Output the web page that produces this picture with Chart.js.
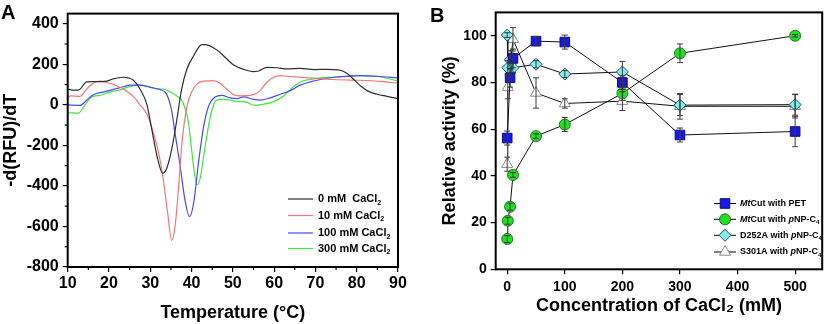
<!DOCTYPE html>
<html>
<head>
<meta charset="utf-8">
<script src="https://cdn.jsdelivr.net/npm/chart.js@4.4.1/dist/chart.umd.min.js"></script>
<style>
  body { margin: 0; background: #fff; width: 830px; height: 324px; position: relative; overflow: hidden; }
  canvas { position: absolute; top: 0; }
  #chartA { left: 0; }
  #chartB { left: 415px; }
</style>
</head>
<body>
<canvas id="chartA" width="415" height="324"></canvas>
<canvas id="chartB" width="415" height="324"></canvas>
<script>
// ---- Panel A: -d(RFU)/dT melt curves ----
const tempA0 = [10,11,12.6,14.6,16.2,19.5,21,23.5,24.7,26,27.5,29.2,30.4,31.6,33,34,35.2,36.4,37.6,38.8,40.5,42.5,43.3,45.3,46.9,48.5,50.2,52.6,55,56.2,58.2,60.7,63.1,66.3,69.6,72.8,75.6,77.6,79.3,80.9,82.5,84.9,87.3,90];
const dA0 = [78,73,73,113,114,117,128,136,133,120,78,0,-125,-250,-338,-313,-219,-78,78,172,242,297,297,282,258,227,196,175,164,167,185,183,177,180,174,175,172,156,125,94,70,52,42,31];

const tempA10 = [10,10.6,13,14.6,16.2,17.8,19.5,21.5,23.5,26,27.5,29.2,30.8,32,33.2,34.2,35.2,36,36.8,37.6,38.8,40,41.3,42.9,45.3,46.9,48.5,50.2,51.8,55,56.6,58.2,59.9,61.5,63.1,66.3,70.4,74.4,78.4,82.5,86.5,90];
const dA10 = [31,44,42,78,106,117,110,97,78,39,0,-47,-141,-235,-375,-532,-669,-600,-422,-203,-16,63,102,117,119,106,78,50,44,50,70,110,136,144,141,136,130,125,122,120,114,106];

const tempA100 = [10,13,14.6,16.2,18.6,21,23.5,25.1,27.5,30,32.4,33.6,34.4,35.2,36,37.2,38.4,39.5,40.5,41.7,42.9,44.1,45.7,47.3,49.4,51,52.6,55,56.6,59,61.5,63.9,66.3,68.7,71.2,74.4,77.6,80.9,84.9,90];
const dA100 = [0,-3,23,50,63,75,89,97,97,86,75,63,31,-31,-141,-297,-469,-552,-485,-282,-110,-8,39,47,34,31,39,27,23,34,52,70,97,113,125,136,141,144,141,133];

const tempA300 = [10,12.6,14.2,15.8,17.8,20.3,22.7,25.1,27.5,30,31.6,33.2,34.8,36.4,38,39.3,40,41.3,42.1,43.3,44.5,45.7,46.9,49.4,51,52.6,55.4,57.4,59.9,62.3,63.9,66.3,68.7,71.2,74.4,77.6,80.9,84.9,90];
const dA300 = [-39,-41,0,39,47,63,74,91,97,89,78,78,63,44,8,-94,-219,-394,-360,-203,-63,16,28,23,16,16,-3,3,16,44,75,113,125,133,136,141,144,141,117];

const labelsA = ["0 mM  CaCl₂", "10 mM CaCl₂", "100 mM CaCl₂", "300 mM CaCl₂"];
const xTicksA = [10, 20, 30, 40, 50, 60, 70, 80, 90];
const yTicksA = [-800, -600, -400, -200, 0, 200, 400];

// ---- Panel B: relative activity vs CaCl2 ----
const concPET = [0, 5, 10, 50, 100, 200, 300, 500];
const actPET  = [56.2, 82, 90.3, 97.7, 97.3, 80, 57.5, 59];
const errPET  = [3, 4, 4, 2, 3, 3, 3, 6.5];

const concPNP = [0, 1, 5, 10, 50, 100, 200, 300, 500];
const actPNP  = [13, 20.8, 26.8, 40.4, 57, 62, 75.3, 92.5, 100];
const errPNP  = [1.5, 1.5, 1.5, 1, 1, 3, 3, 4, 0.5];

const concD252A = [0, 1, 5, 10, 50, 100, 200, 300, 500];
const actD252A  = [100.3, 86.3, 89.7, 86.3, 87.8, 83.6, 84.5, 70.3, 70.5];
const errD252A  = [1, 3, 4, 2, 1.5, 1.5, 4.5, 4.5, 4.5];

const concS301A = [0, 1, 10, 50, 100, 200, 300, 500];
const actS301A  = [45, 78, 98.5, 75.5, 71, 72, 69.8, 69.8];
const errS301A  = [3, 5, 5, 6.5, 2, 4, 5.5, 5];

const labelsB = ["<i>Mt</i>Cut with PET", "<i>Mt</i>Cut with <i>p</i>NP-C₄", "D252A with <i>p</i>NP-C₄", "S301A with <i>p</i>NP-C₄"];
const xTicksB = [0, 100, 200, 300, 400, 500];
const yTicksB = [0, 20, 40, 60, 80, 100];

const FONT = "'Liberation Sans', Arial, sans-serif";

function pts(xs, ys) {
  return xs.map((x, i) => ({ x: x, y: ys[i] }));
}

// text with <i>..</i> italics and unicode subscript digits
function drawRich(ctx, str, x, y, size) {
  const subs = '₀₁₂₃₄₅₆₇₈₉';
  let italic = false;
  let i = 0;
  ctx.textBaseline = 'middle';
  ctx.textAlign = 'left';
  ctx.fillStyle = '#000';
  while (i < str.length) {
    if (str.startsWith('<i>', i)) { italic = true; i += 3; continue; }
    if (str.startsWith('</i>', i)) { italic = false; i += 4; continue; }
    const ch = str[i];
    const s = subs.indexOf(ch);
    if (s >= 0) {
      ctx.font = 'bold ' + Math.round(size * 0.68) + 'px ' + FONT;
      ctx.fillText(String(s), x, y + size * 0.35);
      x += ctx.measureText(String(s)).width;
    } else {
      ctx.font = (italic ? 'italic ' : '') + 'bold ' + size + 'px ' + FONT;
      ctx.fillText(ch, x, y);
      x += ctx.measureText(ch).width;
    }
    i++;
  }
}

function keepTicks(list) {
  return function (scale) {
    scale.ticks = list.map(v => ({ value: v }));
  };
}

const framePlugin = {
  id: 'frame',
  afterDraw(chart, args, opts) {
    const ctx = chart.ctx;
    const a = chart.chartArea;
    ctx.save();
    // minor ticks
    ctx.strokeStyle = '#000';
    ctx.lineWidth = 1.2;
    (opts.minorX || []).forEach(v => {
      const px = chart.scales.x.getPixelForValue(v);
      ctx.beginPath(); ctx.moveTo(px, a.bottom); ctx.lineTo(px, a.bottom + 3); ctx.stroke();
    });
    (opts.minorY || []).forEach(v => {
      const py = chart.scales.y.getPixelForValue(v);
      ctx.beginPath(); ctx.moveTo(a.left, py); ctx.lineTo(a.left - 3, py); ctx.stroke();
    });
    ctx.lineWidth = 2;
    ctx.strokeRect(a.left, a.top, a.right - a.left, a.bottom - a.top);
    // panel letter
    ctx.fillStyle = '#000';
    ctx.font = 'bold 20px ' + FONT;
    ctx.textAlign = 'left';
    ctx.textBaseline = 'alphabetic';
    ctx.fillText(opts.letter, opts.letterX, opts.letterY);
    ctx.restore();
  }
};

const legendAPlugin = {
  id: 'legendA',
  afterDraw(chart) {
    const ctx = chart.ctx;
    const rows = [199, 215.5, 233, 248.5];
    ctx.save();
    chart.data.datasets.forEach((ds, i) => {
      ctx.strokeStyle = ds.borderColor;
      ctx.lineWidth = 1.2;
      ctx.beginPath(); ctx.moveTo(288, rows[i]); ctx.lineTo(313, rows[i]); ctx.stroke();
      drawRich(ctx, ds.label, 318, rows[i], 11);
    });
    ctx.restore();
  }
};

const errorBarPlugin = {
  id: 'errorBars',
  afterDatasetsDraw(chart) {
    const ctx = chart.ctx;
    const ys = chart.scales.y;
    ctx.save();
    ctx.strokeStyle = '#3a3a3a';
    ctx.lineWidth = 1;
    chart.data.datasets.forEach((ds, i) => {
      const meta = chart.getDatasetMeta(i);
      meta.data.forEach((el, j) => {
        const e = ds.errors[j];
        const v = ds.data[j].y;
        const top = ys.getPixelForValue(v + e);
        const bot = ys.getPixelForValue(v - e);
        ctx.beginPath();
        ctx.moveTo(el.x, top); ctx.lineTo(el.x, bot);
        ctx.moveTo(el.x - 3, top); ctx.lineTo(el.x + 3, top);
        ctx.moveTo(el.x - 3, bot); ctx.lineTo(el.x + 3, bot);
        ctx.stroke();
      });
    });
    ctx.restore();
  }
};

const legendBPlugin = {
  id: 'legendB',
  afterDraw(chart) {
    const ctx = chart.ctx;
    const rows = [203.5, 219.3, 235.3, 252];
    ctx.save();
    chart.data.datasets.forEach((ds, i) => {
      ctx.strokeStyle = '#000';
      ctx.lineWidth = 1;
      ctx.beginPath(); ctx.moveTo(299, rows[i]); ctx.lineTo(321, rows[i]); ctx.stroke();
      ctx.fillStyle = ds.pointBackgroundColor;
      ctx.strokeStyle = ds.pointBorderColor;
      ctx.lineWidth = 1;
      Chart.helpers.drawPoint(ctx, { pointStyle: ds.pointStyle, radius: ds.pointRadius, borderWidth: 1, rotation: 0 }, 310, rows[i]);
      drawRich(ctx, ds.label, 325, rows[i], 9);
    });
    ctx.restore();
  }
};

const tickFont = size => ({ family: FONT, weight: 'bold', size: size });

const colorsA = ['#2e2e2e', '#f27575', '#4848f2', '#3de63d'];
const seriesA = [pts(tempA0, dA0), pts(tempA10, dA10), pts(tempA100, dA100), pts(tempA300, dA300)];

new Chart(document.getElementById('chartA'), {
  type: 'line',
  data: {
    datasets: seriesA.map((d, i) => ({
      label: labelsA[i],
      data: d,
      borderColor: colorsA[i],
      borderWidth: 1.2,
      pointRadius: 0,
      cubicInterpolationMode: 'monotone',
      fill: false
    }))
  },
  options: {
    responsive: false,
    animation: false,
    devicePixelRatio: 1,
    layout: { padding: { left: 0, right: 17, top: 1, bottom: 0 } },
    plugins: {
      legend: { display: false },
      tooltip: { enabled: false },
      frame: { letter: 'A', letterX: 1, letterY: 19, minorX: [15,25,35,45,55,65,75,85], minorY: [-700,-500,-300,-100,100,300] }
    },
    scales: {
      x: {
        type: 'linear', min: 10, max: 90,
        afterBuildTicks: keepTicks(xTicksA),
        afterFit: s => { s.height = 57; },
        border: { display: false },
        grid: { drawOnChartArea: false, tickLength: 5, color: '#000', lineWidth: 1.2 },
        ticks: { color: '#000', font: tickFont(16), padding: 2, maxRotation: 0 },
        title: { display: true, text: 'Temperature (°C)', color: '#000', font: tickFont(18), padding: { top: 0, bottom: 0 } }
      },
      y: {
        type: 'linear', min: -800, max: 450,
        afterBuildTicks: keepTicks(yTicksA),
        afterFit: s => { s.width = 67.7; },
        border: { display: false },
        grid: { drawOnChartArea: false, tickLength: 5, color: '#000', lineWidth: 1.2 },
        ticks: { color: '#000', font: tickFont(16), padding: 4 },
        title: { display: true, text: '-d(RFU)/dT', color: '#000', font: tickFont(18), padding: { top: 0, bottom: 0 } }
      }
    }
  },
  plugins: [framePlugin, legendAPlugin]
});

new Chart(document.getElementById('chartB'), {
  type: 'line',
  data: {
    datasets: [
      { label: labelsB[0], data: pts(concPET, actPET), errors: errPET, pointStyle: 'rect', pointRadius: 6.8,
        pointBackgroundColor: '#1818e0', pointBorderColor: '#10107a' },
      { label: labelsB[1], data: pts(concPNP, actPNP), errors: errPNP, pointStyle: 'circle', pointRadius: 5.5,
        pointBackgroundColor: '#1fe01f', pointBorderColor: '#2f6f2f' },
      { label: labelsB[2], data: pts(concD252A, actD252A), errors: errD252A, pointStyle: 'rectRot', pointRadius: 6,
        pointBackgroundColor: '#80eef2', pointBorderColor: '#2f4f50' },
      { label: labelsB[3], data: pts(concS301A, actS301A), errors: errS301A, pointStyle: 'triangle', pointRadius: 6.4,
        pointBackgroundColor: '#ffffff', pointBorderColor: '#8a8a8a' }
    ].map(ds => Object.assign(ds, { borderColor: '#111', borderWidth: 1, pointBorderWidth: 1, fill: false, tension: 0 }))
  },
  options: {
    responsive: false,
    animation: false,
    devicePixelRatio: 1,
    layout: { padding: { left: 24, right: 2.3, top: 1, bottom: 0 } },
    plugins: {
      legend: { display: false },
      tooltip: { enabled: false },
      frame: { letter: 'B', letterX: 15, letterY: 22 }
    },
    scales: {
      x: {
        type: 'linear', min: -20, max: 547,
        afterBuildTicks: keepTicks(xTicksB),
        afterFit: s => { s.height = 54.7; },
        border: { display: false },
        grid: { drawOnChartArea: false, tickLength: 5, color: '#000', lineWidth: 1.2 },
        ticks: { color: '#000', font: tickFont(14), padding: 4, maxRotation: 0 },
        title: { display: true, text: 'Concentration of CaCl₂ (mM)', color: '#000', font: tickFont(18), padding: { top: 0, bottom: 7 } }
      },
      y: {
        type: 'linear', min: 0, max: 110,
        afterBuildTicks: keepTicks(yTicksB),
        afterFit: s => { s.width = 56.7; },
        border: { display: false },
        grid: { drawOnChartArea: false, tickLength: 5, color: '#000', lineWidth: 1.2 },
        ticks: { color: '#000', font: tickFont(14), padding: 4 },
        title: { display: true, text: 'Relative activity (%)', color: '#000', font: tickFont(18), padding: { top: 0, bottom: 0 } }
      }
    }
  },
  plugins: [framePlugin, errorBarPlugin, legendBPlugin]
});
</script>
</body>
</html>
